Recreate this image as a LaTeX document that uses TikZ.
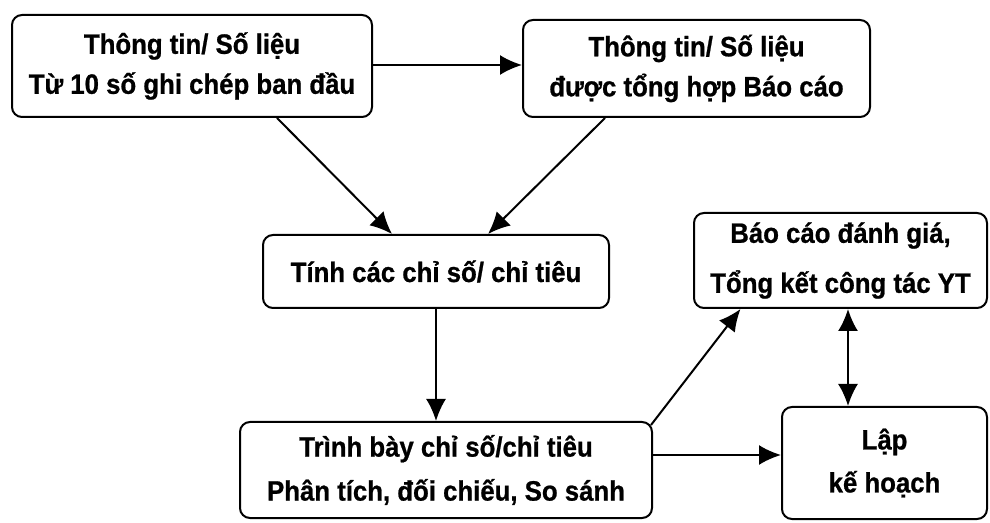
\documentclass[tikz,border=0pt]{standalone}
\usepackage{fontspec}
\setmainfont{Liberation Sans}[FakeStretch=0.92,BoldFeatures={FakeBold=0.8}]
\usetikzlibrary{arrows.meta,calc}
\begin{document}
\begin{tikzpicture}[x=1pt,y=1pt,
  box/.style={draw,line width=2pt,rounded corners=10pt,align=center,inner sep=0pt,
    font=\bfseries\fontsize{28}{40}\selectfont},
  conn/.style={line width=2pt,-{Latex[length=22pt,width=20pt]}},
  dconn/.style={line width=2pt,{Latex[length=22pt,width=20pt]}-{Latex[length=22pt,width=20pt]}}]
\useasboundingbox (0,0) rectangle (990,522);
\node[box,minimum width=360,minimum height=102] (A) at (192,456) {Thông tin/ Số liệu\\Từ 10 số ghi chép ban đầu};
\node[box,minimum width=347,minimum height=97] (B) at (696.5,453.5) {Thông tin/ Số liệu\\được tổng hợp Báo cáo};
\node[box,minimum width=346,minimum height=73] (C) at (436,250.5) {Tính các chỉ số/ chỉ tiêu};
\node[box,minimum width=293,minimum height=95,font=\bfseries\fontsize{28}{50}\selectfont] (D) at (840.5,261.5) {Báo cáo đánh giá,\\Tổng kết công tác YT};
\node[box,minimum width=205,minimum height=112,font=\bfseries\fontsize{28}{43}\selectfont] (E) at (884.5,59) {Lập\\kế hoạch};
\node[box,minimum width=412,minimum height=96,font=\bfseries\fontsize{28}{44}\selectfont] (F) at (446,52) {Trình bày chỉ số/chỉ tiêu\\Phân tích, đối chiếu, So sánh};
\coordinate (fe) at ($(F.east)+(0,15)$);
\coordinate (ds) at ($(D.south)+(7.5,0)$);
\draw[conn] ($(A.east)+(0,1)$) -- ($(B.west)+(0,3.5)$);
\draw[conn] ($(A.south)+(85,0)$) -- ($(C.north)+(-44,0)$);
\draw[conn] ($(B.south)+(-91.5,0)$) -- ($(C.north)+(52,0)$);
\draw[conn] (C.south) -- (C.south |- F.north);
\draw[conn] ($(F.north east)+(-2,-4)$) -- ($(D.south)+(-100,0)$);
\draw[conn] (fe) -- (fe -| E.west);
\draw[dconn] (ds) -- (ds |- E.north);
\end{tikzpicture}
\end{document}
